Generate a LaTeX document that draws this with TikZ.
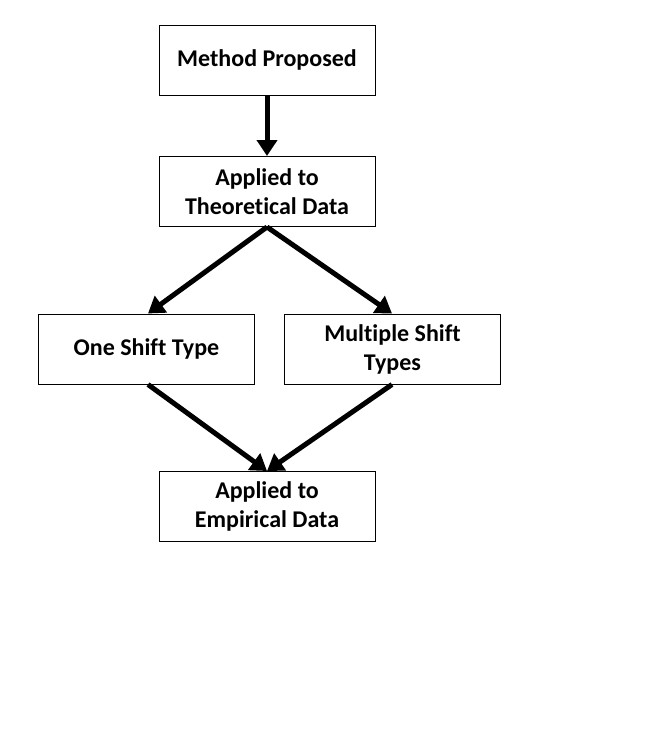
\documentclass[tikz,border=0pt]{standalone}
\usepackage{fontspec}
\setmainfont[Ligatures=NoCommon]{Carlito}
\usetikzlibrary{arrows.meta}
\begin{document}
\begin{tikzpicture}[x=1pt,y=-1pt,
  box/.style={draw=black,line width=1pt,fill=white,minimum width=216pt,minimum height=70pt,inner sep=0pt,align=center,
    font=\fontsize{24}{29}\selectfont\bfseries},
  arr/.style={line width=5pt,-{Triangle[length=16pt,width=20pt]}}]
\useasboundingbox[fill=white] (0,0) rectangle (666,734);
\node[box] (mp) at (267,60) {Method Proposed};
\node[box] (at) at (267,191.5) {Applied to\\Theoretical Data};
\node[box] (os) at (146.5,349) {One Shift Type};
\node[box] (ms) at (392.5,349) {Multiple Shift\\Types};
\node[box] (ae) at (267,506.5) {Applied to\\Empirical Data};
\draw[arr] (mp.south) -- (at.north);
\draw[arr] (at.south) -- ([xshift=1.5pt]os.north);
\draw[arr] (at.south) -- ([xshift=-0.5pt]ms.north);
\draw[arr] ([xshift=1.5pt]os.south) -- (ae.north);
\draw[arr] ([xshift=-0.5pt]ms.south) -- (ae.north);
\end{tikzpicture}
\end{document}
